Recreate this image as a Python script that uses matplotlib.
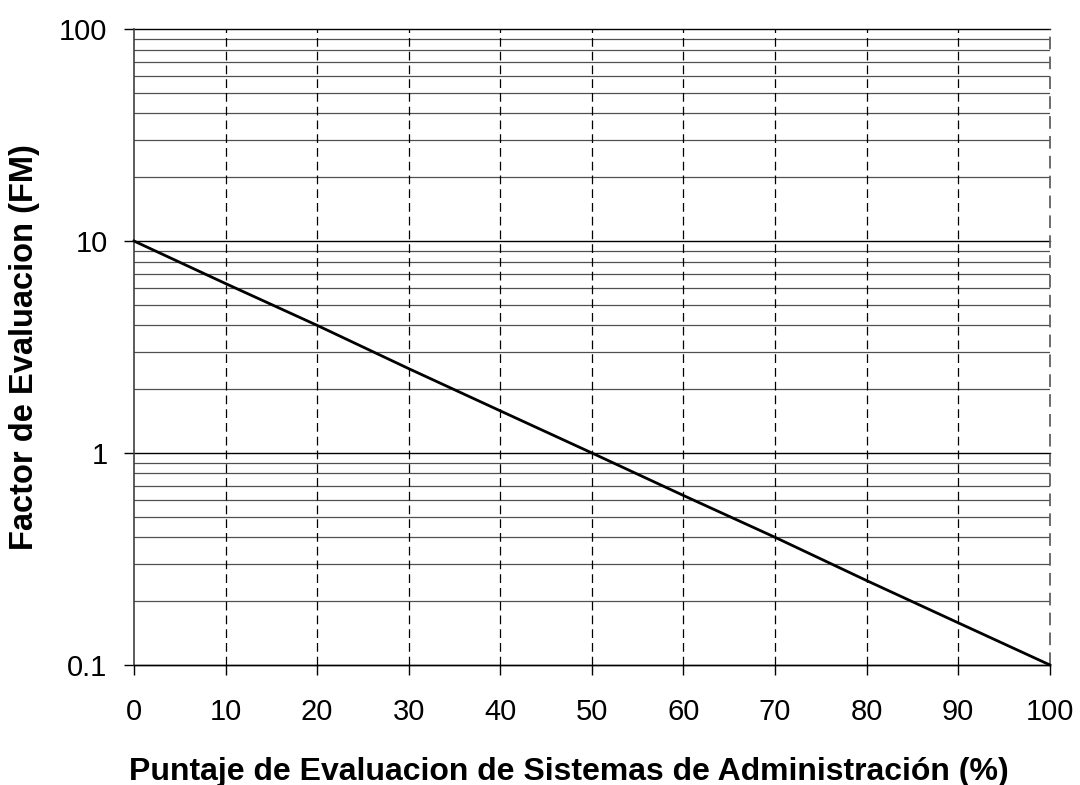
import matplotlib
matplotlib.use("Agg")
import matplotlib.pyplot as plt
from matplotlib.ticker import FixedLocator, FixedFormatter, NullFormatter

plt.rcParams['font.family'] = ['Liberation Sans', 'DejaVu Sans']

# Data
score_pct = [0, 10, 20, 30, 40, 50, 60, 70, 80, 90, 100]
fm_values = [10, 6.3, 4.0, 2.5, 1.58, 1.0, 0.63, 0.40, 0.25, 0.158, 0.1]
x_ticks = [0, 10, 20, 30, 40, 50, 60, 70, 80, 90, 100]
y_ticks = [0.1, 1, 10, 100]
y_tick_labels = ["0.1", "1", "10", "100"]
y_minor = [m * d for d in (0.1, 1, 10) for m in range(2, 10)]

fig = plt.figure(figsize=(10.8, 7.85), dpi=100)
ax = fig.add_axes([0.124, 0.153, 0.848, 0.810])

ax.set_yscale('log')
ax.set_xlim(0, 100)
ax.set_ylim(0.1, 100)

# horizontal grid lines
for v in y_minor:
    ax.axhline(v, color='#505050', lw=0.9, zorder=1)
for v in y_ticks:
    ax.axhline(v, color='black', lw=1.0, zorder=1, clip_on=False)
# vertical dashed grid lines
for v in x_ticks[1:]:
    ax.axvline(v, color='black' if v < 100 else '#606060', lw=0.9 if v < 100 else 1.3,
               linestyle=(0, (7, 4)), zorder=1, clip_on=False)

ax.plot(score_pct, fm_values, color='black', lw=2.0, zorder=3, clip_on=False)

ax.yaxis.set_major_locator(FixedLocator(y_ticks))
ax.yaxis.set_major_formatter(FixedFormatter(y_tick_labels))
ax.yaxis.set_minor_locator(FixedLocator(y_minor))
ax.yaxis.set_minor_formatter(NullFormatter())
ax.set_xticks(x_ticks)
ax.set_xticklabels([str(v) for v in x_ticks])

ax.tick_params(axis='y', which='major', length=7, width=1, direction='out',
               labelsize=21, pad=12, color='black')
ax.tick_params(axis='y', which='minor', length=0)
ax.tick_params(axis='x', which='major', length=7, width=1, direction='out',
               labelsize=21, pad=17, color='black')

for s in ('top', 'right'):
    ax.spines[s].set_visible(False)
ax.spines['left'].set_color('#404040')
ax.spines['left'].set_linewidth(1.2)
ax.spines['bottom'].set_color('black')
ax.spines['bottom'].set_linewidth(1.0)

ax.set_xlabel('Puntaje de Evaluacion de Sistemas de Administración (%)',
              fontsize=23, fontweight='bold', labelpad=22)
ax.xaxis.label.set_x(0.475)
ax.set_ylabel('Factor de Evaluacion (FM)', fontsize=23.5, fontweight='bold', labelpad=14)

fig.savefig('out.png', dpi=100)
